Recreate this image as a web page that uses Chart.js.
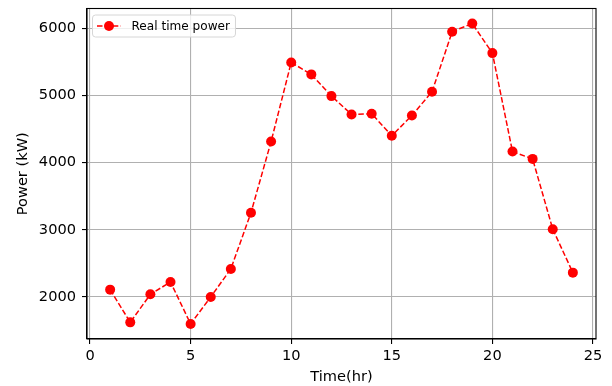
<!DOCTYPE html>
<html>
<head>
<meta charset="utf-8">
<script src="https://cdn.jsdelivr.net/npm/chart.js@4/dist/chart.umd.min.js"></script>
<style>
html,body{margin:0;padding:0;background:#fff;}
#wrap{width:612px;height:386px;position:relative;}
</style>
</head>
<body>
<div id="wrap"><canvas id="c" width="612" height="386"></canvas></div>
<script>
const hours = [1,2,3,4,5,6,7,8,9,10,11,12,13,14,15,16,17,18,19,20,21,22,23,24];
const power = [2109,1622,2039,2223,1598,2000,2417,3253,4313,5491,5313,4990,4717,4727,4400,4702,5055,5949,6070,5630,4164,4055,3009,2362];
const xTicks = [0,5,10,15,20,25];
const yTicks = [2000,3000,4000,5000,6000];
const seriesLabel = 'Real time power';
const xTitle = 'Time(hr)';
const yTitle = 'Power (kW)';

const FONT = 'DejaVu Sans';
const FS = 14.6;

const framePlugin = {
  id: 'frame',
  afterDatasetsDraw(chart) {
    const {ctx, chartArea: a} = chart;
    ctx.save();
    ctx.strokeStyle = '#000';
    ctx.lineWidth = 1.1;
    ctx.strokeRect(a.left, a.top, a.right - a.left, a.bottom - a.top);
    ctx.restore();
  }
};

const legendPlugin = {
  id: 'mplLegend',
  afterDraw(chart) {
    const {ctx, chartArea: a} = chart;
    const ds = chart.data.datasets[0];
    const x0 = a.left + 5, y0 = a.top + 6;
    ctx.save();
    ctx.font = '12.1px "' + FONT + '"';
    const tw = ctx.measureText(ds.label).width;
    const w = 39.5 + tw + 5, h = 22;
    ctx.fillStyle = 'rgba(255,255,255,0.8)';
    ctx.strokeStyle = '#d6d6d6';
    ctx.lineWidth = 1;
    ctx.beginPath();
    if (ctx.roundRect) ctx.roundRect(x0 + 0.5, y0 + 0.5, w, h, 3); else ctx.rect(x0 + 0.5, y0 + 0.5, w, h);
    ctx.fill(); ctx.stroke();
    const cy = y0 + h / 2 + 0.5;
    ctx.strokeStyle = ds.borderColor;
    ctx.lineWidth = 1.5;
    ctx.setLineDash([5.5, 2.4]);
    ctx.beginPath(); ctx.moveTo(x0 + 5, cy); ctx.lineTo(x0 + 29, cy); ctx.stroke();
    ctx.setLineDash([]);
    ctx.fillStyle = ds.pointBackgroundColor;
    ctx.beginPath(); ctx.arc(x0 + 17, cy, 5, 0, Math.PI * 2); ctx.fill();
    ctx.fillStyle = '#000';
    ctx.textBaseline = 'middle';
    ctx.fillText(ds.label, x0 + 39.5, cy + 0.5);
    ctx.restore();
  }
};

new Chart(document.getElementById('c'), {
  type: 'line',
  data: {
    datasets: [{
      label: seriesLabel,
      data: hours.map((h, i) => ({x: h, y: power[i]})),
      borderColor: '#ff0000',
      backgroundColor: '#ff0000',
      pointBackgroundColor: '#ff0000',
      pointBorderColor: '#ff0000',
      borderWidth: 1.5,
      borderDash: [5.5, 2.4],
      pointRadius: 5,
      pointBorderWidth: 0,
      tension: 0,
      fill: false
    }]
  },
  options: {
    responsive: false,
    animation: false,
    devicePixelRatio: 1,
    layout: {padding: {top: 8.5, right: 16, left: 0, bottom: 0}},
    plugins: {legend: {display: false}, tooltip: {enabled: false}},
    scales: {
      x: {
        type: 'linear',
        min: -0.15,
        max: 25.15,
        afterBuildTicks(s) { s.ticks = xTicks.map(v => ({value: v})); },
        afterFit(s) { s.height = 47; s.paddingLeft = 0; s.paddingRight = 0; },
        grid: {color: '#b0b0b0', lineWidth: 1.1, tickColor: '#000', tickLength: 5, drawTicks: true},
        border: {color: '#000', width: 1.1},
        ticks: {color: '#000', font: {family: FONT, size: FS}, padding: 3, maxRotation: 0, callback: v => String(v)},
        title: {display: true, text: xTitle, color: '#000', font: {family: FONT, size: FS}, padding: {top: 0, bottom: 0}}
      },
      y: {
        type: 'linear',
        min: 1374,
        max: 6294,
        afterBuildTicks(s) { s.ticks = yTicks.map(v => ({value: v})); },
        afterFit(s) { s.width = 87; s.paddingTop = 0; s.paddingBottom = 0; },
        grid: {color: '#b0b0b0', lineWidth: 1.1, tickColor: '#000', tickLength: 5, drawTicks: true},
        border: {color: '#000', width: 1.1},
        ticks: {color: '#000', font: {family: FONT, size: FS}, padding: 6, callback: v => String(v)},
        title: {display: true, text: yTitle, color: '#000', font: {family: FONT, size: FS}, padding: {top: 14, bottom: 0}}
      }
    }
  },
  plugins: [framePlugin, legendPlugin]
});
</script>
</body>
</html>
